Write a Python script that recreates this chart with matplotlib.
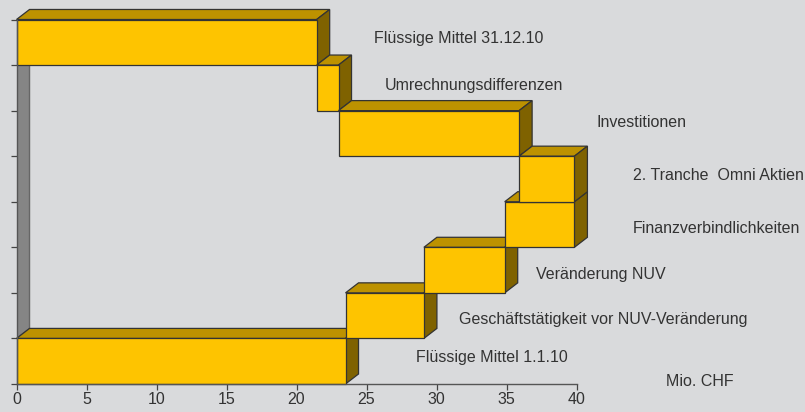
import matplotlib
matplotlib.use('Agg')
import matplotlib.pyplot as plt
from matplotlib.patches import Polygon

# --- Daten ---
START = [0, 21.44, 23.0, 35.9, 34.87, 29.1, 23.5, 0]
END = [21.44, 23.0, 35.9, 39.85, 39.85, 34.87, 29.1, 23.5]
LABELS = ['Flüssige Mittel 31.12.10', 'Umrechnungsdifferenzen', 'Investitionen',
          '2. Tranche  Omni Aktien', 'Finanzverbindlichkeiten', 'Veränderung NUV',
          'Geschäftstätigkeit vor NUV-Veränderung', 'Flüssige Mittel 1.1.10']
LABEL_X = [374, 385, 596, 633, 633, 536, 459, 416]
LABEL_Y = [43, 90, 127, 180, 233, 279, 324, 362]   # Grundlinie in Pixel
XTICKS = [0, 5, 10, 15, 20, 25, 30, 35, 40]
DRAW_ORDER = [7, 6, 5, 4, 0, 1, 2, 3]

BG = '#d9dadc'
FRONT = '#fec400'
TOP = '#bd9200'
SIDE = '#7f6200'
EDGE = '#333333'
DX = 0.93   # Tiefe in x
DY = 0.22   # Tiefe in y
FS = 11.5

W, H = 805, 412
fig = plt.figure(figsize=(W / 100, H / 100), dpi=100, facecolor=BG)
ax = fig.add_axes([16.5 / W, 1 - 384 / H, 560 / W, 364.5 / H], facecolor=BG)
ax.set_xlim(0, 40)
ax.set_ylim(8, 0)

# graue Rueckwand
ax.add_patch(Polygon([(0, 1), (DX, 1), (DX, 7 - DY), (0, 7)], fc='#858585', ec='#666666', lw=1, zorder=1))

z = 2
for i in DRAW_ORDER:
    x0, x1 = START[i], END[i]
    y0, y1 = i, i + 1
    ax.add_patch(Polygon([(x0, y0), (x0 + DX, y0 - DY), (x1 + DX, y0 - DY), (x1, y0)],
                         fc=TOP, ec=EDGE, lw=0.9, clip_on=False, zorder=z))
    ax.add_patch(Polygon([(x1, y0), (x1 + DX, y0 - DY), (x1 + DX, y1 - DY), (x1, y1)],
                         fc=SIDE, ec=EDGE, lw=0.9, clip_on=False, zorder=z))
    ax.barh(i + 0.5, x1 - x0, left=x0, height=1, color=FRONT, edgecolor=EDGE, lw=0.9, clip_on=False, zorder=z)
    z += 1

for s in ['top', 'right']:
    ax.spines[s].set_visible(False)
for s in ['left', 'bottom']:
    ax.spines[s].set_color('#555555')
    ax.spines[s].set_linewidth(1)
    ax.spines[s].set_zorder(20)
ax.set_xticks(XTICKS)
ax.set_yticks(range(9))
ax.set_yticklabels([])
ax.tick_params(axis='both', color='#444444', length=4, width=0.9, labelcolor='#333333', labelsize=FS, pad=2)
for t in ax.get_xticklabels():
    t.set_fontfamily('Liberation Sans')

for lab, x, y in zip(LABELS, LABEL_X, LABEL_Y):
    fig.text(x / W, 1 - y / H, lab, fontsize=FS, family='Liberation Sans', color='#333333', va='baseline')
fig.text(666 / W, 1 - 386 / H, 'Mio. CHF', fontsize=FS, family='Liberation Sans', color='#333333', va='baseline')

fig.savefig('out.png', dpi=100, facecolor=BG)
